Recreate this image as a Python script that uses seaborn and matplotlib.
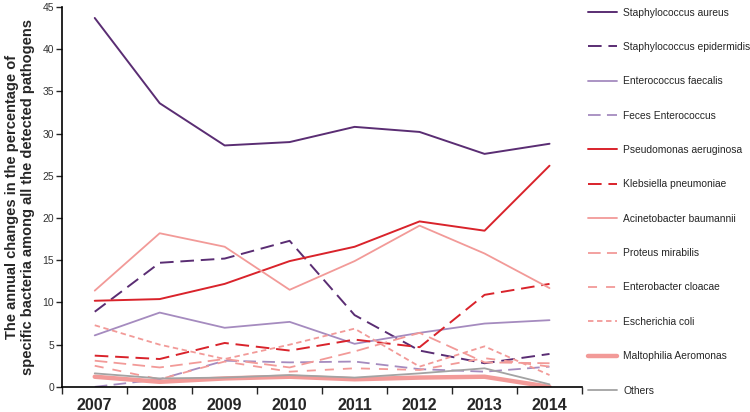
import matplotlib
matplotlib.use("Agg")
import matplotlib.pyplot as plt
import seaborn as sns
import pandas as pd
from matplotlib.ticker import FixedLocator, NullFormatter

years = ["2007", "2008", "2009", "2010", "2011", "2012", "2013", "2014"]

staph_aureus = [43.7, 33.6, 28.6, 29.0, 30.8, 30.2, 27.6, 28.8]
staph_epidermidis = [8.9, 14.7, 15.2, 17.3, 8.5, 4.3, 2.8, 3.9]
enterococcus_faecalis = [6.1, 8.8, 7.0, 7.7, 5.1, 6.4, 7.5, 7.9]
feces_enterococcus = [0.0, 0.9, 3.1, 2.9, 3.0, 2.1, 1.8, 2.4]
pseudomonas = [10.2, 10.4, 12.2, 14.9, 16.6, 19.6, 18.5, 26.2]
klebsiella = [3.7, 3.3, 5.2, 4.3, 5.6, 4.7, 10.9, 12.2]
acinetobacter = [11.4, 18.2, 16.6, 11.5, 14.9, 19.1, 15.8, 11.7]
proteus = [3.1, 2.3, 3.3, 2.3, 4.2, 6.4, 2.9, 2.8]
enterobacter = [2.5, 0.9, 3.0, 1.8, 2.2, 2.0, 3.4, 2.4]
escherichia = [7.3, 5.0, 3.3, 5.0, 6.9, 2.4, 4.8, 1.4]
maltophilia = [1.2, 0.6, 1.0, 1.2, 0.9, 1.1, 1.2, 0.0]
others = [1.6, 1.0, 1.1, 1.4, 1.1, 1.6, 2.2, 0.3]

series_names = ["Staphylococcus aureus", "Staphylococcus epidermidis",
                "Enterococcus faecalis", "Feces Enterococcus",
                "Pseudomonas aeruginosa", "Klebsiella pneumoniae",
                "Acinetobacter baumannii", "Proteus mirabilis",
                "Enterobacter cloacae", "Escherichia coli",
                "Maltophilia Aeromonas", "Others"]
series_values = [staph_aureus, staph_epidermidis, enterococcus_faecalis,
                 feces_enterococcus, pseudomonas, klebsiella, acinetobacter,
                 proteus, enterobacter, escherichia, maltophilia, others]

dark_purple = "#5a2d73"
light_purple = "#a58bbf"
red = "#d9232b"
pink = "#f29a98"
grey = "#a3a3a3"

palette = dict(zip(series_names, [dark_purple, dark_purple, light_purple, light_purple,
                                  red, red, pink, pink, pink, pink, pink, grey]))
dashes = dict(zip(series_names, ["", (7, 3.5), "", (7, 3.5), "", (7, 3.5), "",
                                 (7, 3.5), (5, 5), (3, 2), "", ""]))
sizes = dict(zip(series_names, [1.4, 1.4, 1.3, 1.3, 1.4, 1.4, 1.3, 1.3, 1.3, 1.3, 3.2, 1.3]))

rows = []
for name, vals in zip(series_names, series_values):
    for y, v in zip(years, vals):
        rows.append({"Year": y, "Value": v, "Series": name})
df = pd.DataFrame(rows)

sns.set_style("white")
plt.rcParams["font.family"] = ["Liberation Sans", "DejaVu Sans"]

fig = plt.figure(figsize=(7.5, 4.12), dpi=100)
ax = fig.add_axes([0.083, 0.061, 0.693, 0.922])

sns.lineplot(data=df, x="Year", y="Value", hue="Series", style="Series", size="Series",
             palette=palette, dashes=dashes, sizes=sizes, hue_order=series_names,
             style_order=series_names, size_order=series_names, ax=ax, sort=False)

ax.set_xlim(-0.5, 7.5)
ax.set_ylim(0, 45)
ax.set_yticks(range(0, 46, 5))
ax.tick_params(axis="y", labelsize=7.5, labelcolor="#333333", length=4, width=1,
               direction="out", left=True, pad=2)
ax.tick_params(axis="x", which="major", length=0, labelsize=11.5, pad=8)
ax.xaxis.set_minor_locator(FixedLocator([i - 0.5 for i in range(len(years) + 1)]))
ax.xaxis.set_minor_formatter(NullFormatter())
ax.tick_params(axis="x", which="minor", length=5, width=1, direction="out", bottom=True)
for lab in ax.get_xticklabels():
    lab.set_fontweight("bold")
ax.set_xlabel("")
ax.set_ylabel("The annual changes in the percentage of\nspecific bacteria among all the detected pathogens",
              fontsize=10.5, fontweight="bold", labelpad=5)
for s in ["top", "right"]:
    ax.spines[s].set_visible(False)
for s in ["left", "bottom"]:
    ax.spines[s].set_color("black")
    ax.spines[s].set_linewidth(1.2)

handles, labels = ax.get_legend_handles_labels()
ax.get_legend().remove()
hl = dict(zip(labels, handles))
leg = fig.legend([hl[n] for n in series_names], series_names, loc="upper left",
                 bbox_to_anchor=(0.772, 1.004), frameon=False, fontsize=7.4,
                 handlelength=2.8, labelspacing=2.37, handletextpad=0.6)

fig.savefig("out.png", dpi=100)
